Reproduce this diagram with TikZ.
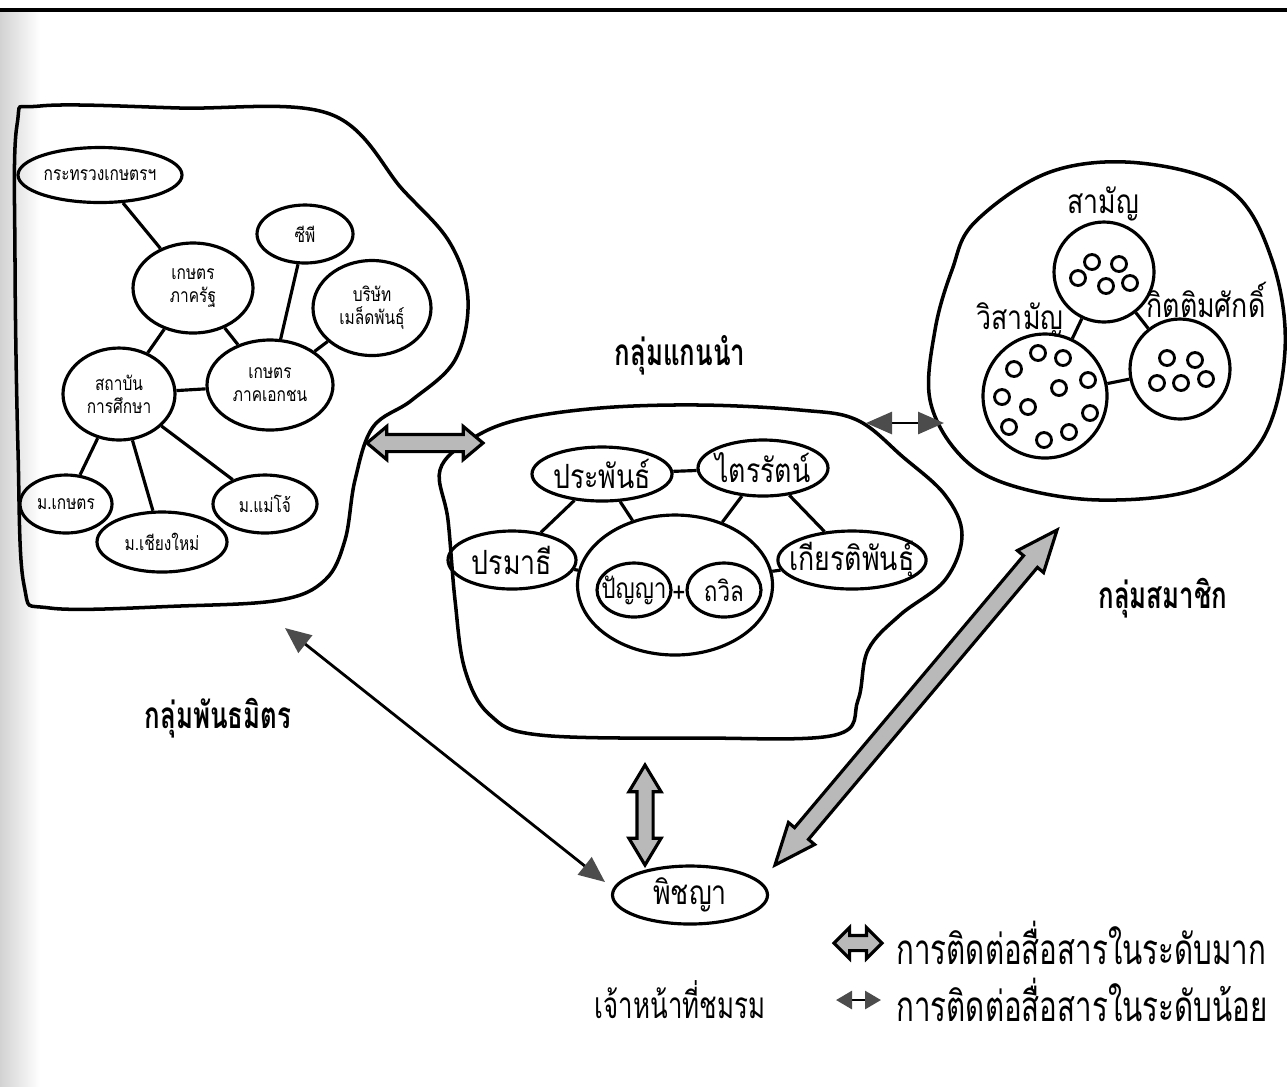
\documentclass[tikz,border=0pt]{standalone}
\usepackage{fontspec}
\newfontfamily\thaifont[Script=Thai,FakeStretch=0.8]{Loma}
\newfontfamily\thaicond[Script=Thai,FakeStretch=0.7]{Loma}
\usetikzlibrary{shapes.geometric,shapes.arrows,arrows.meta}
\begin{document}
\begin{tikzpicture}[x=0.1mm,y=-0.1mm,font=\thaifont,
  ent/.style={ellipse, draw, line width=0.9pt, inner xsep=-1mm, inner ysep=0pt, align=center},
  ring/.style={circle, draw, line width=0.9pt, inner sep=0pt},
  mini/.style={circle, draw, line width=0.8pt, minimum size=1.5mm, inner sep=0pt},
  link/.style={line width=0.9pt},
  blob/.style={line width=1pt},
  bigarr/.style={double arrow, draw, line width=0.9pt, fill=gray!55, inner sep=0.7mm, double arrow head extend=0.8mm},
  thinarr/.style={line width=0.8pt, {Triangle[length=2.6mm,width=2.2mm,color=gray!60!black]}-{Triangle[length=2.6mm,width=2.2mm,color=gray!60!black]}},
  keyarr/.style={line width=0.8pt, {Triangle[length=1.6mm,width=1.8mm,color=gray!60!black]}-{Triangle[length=1.6mm,width=1.8mm,color=gray!60!black]}},
  tiny/.style={font=\thaifont\fontsize{5.5}{6.5}\selectfont},
  mid/.style={font=\thaifont\fontsize{9.5}{10.5}\selectfont},
  sml/.style={font=\thaifont\fontsize{8}{9}\selectfont},
  grp/.style={font=\thaicond\bfseries\fontsize{10.5}{12}\selectfont},
  lgd/.style={font=\thaicond\fontsize{12}{14}\selectfont}]
\useasboundingbox (0,0) rectangle (1287,1086);
\shade[left color=gray!35, right color=white] (0,10) rectangle (40,1086);
\draw[line width=1.2pt] (0,10) -- (1287,10);
\draw[blob] plot[smooth cycle, tension=0.6] coordinates {(17,125) (40,106) (180,108) (330,114) (403,190) (450,243) (468,300) (455,360) (412,400) (373,427) (355,480) (345,540) (325,580) (280,600) (180,606) (50,608) (24,585) (18,450) (15,260)};
\draw[blob] plot[smooth cycle, tension=0.6] coordinates {(440,470) (470,440) (517,420) (600,408) (700,405) (800,410) (857,420) (903,457) (945,495) (962,535) (945,580) (900,615) (868,650) (858,700) (835,735) (700,738) (540,735) (490,715) (465,670) (455,600) (448,520)};
\draw[blob] plot[smooth cycle, tension=0.6] coordinates {(975,222) (1050,172) (1140,163) (1230,190) (1272,260) (1285,350) (1262,440) (1200,488) (1100,500) (1010,485) (960,455) (930,400) (935,330) (952,270)};
\node[ent, tiny, minimum width=16.4mm, minimum height=5.5mm] (moa) at (100,175) {กระทรวงเกษตรฯ};
\node[ent, tiny, minimum width=12mm, minimum height=9mm] (gov) at (193,288) {เกษตร\\ภาครัฐ};
\node[ent, tiny, minimum width=9.6mm, minimum height=5.8mm] (cp) at (305,234) {ซีพี};
\node[ent, tiny, minimum width=11.8mm, minimum height=9.5mm] (seed) at (372,308) {บริษัท\\เมล็ดพันธุ์};
\node[ent, tiny, minimum width=12.6mm, minimum height=9mm] (priv) at (270,385) {เกษตร\\ภาคเอกชน};
\node[ent, tiny, minimum width=11.2mm, minimum height=9.2mm] (edu) at (119,394) {สถาบัน\\การศึกษา};
\node[ent, tiny, minimum width=9.2mm, minimum height=5.8mm] (ku) at (66,504) {ม.เกษตร};
\node[ent, tiny, minimum width=13mm, minimum height=6mm] (cmu) at (162,542) {ม.เชียงใหม่};
\node[ent, tiny, minimum width=10.4mm, minimum height=5.8mm] (mju) at (265,504) {ม.แม่โจ้};
\draw[link] (moa) -- (gov);
\draw[link] (gov) -- (edu);
\draw[link] (gov) -- (priv);
\draw[link] (cp) -- (priv);
\draw[link] (seed) -- (priv);
\draw[link] (edu) -- (priv);
\draw[link] (edu) -- (ku);
\draw[link] (edu) -- (cmu);
\draw[link] (edu) -- (mju);
\node[grp] (allies) at (218,718) {กลุ่มพันธมิตร};
\node[grp] (leaders) at (680,355) {กลุ่มแกนนำ};
\node[ent, mid, minimum width=14mm, minimum height=5.4mm] (pra) at (602,474) {ประพันธ์};
\node[ent, mid, minimum width=13mm, minimum height=5.6mm] (tri) at (763,468) {ไตรรัตน์};
\node[ent, mid, minimum width=12.8mm, minimum height=5.8mm] (pam) at (512,560) {ปรมาธี};
\node[ent, mid, minimum width=13mm, minimum height=5.8mm] (kia) at (852,560) {เกียรติพันธุ์};
\node[ent, minimum width=19.5mm, minimum height=14mm] (core) at (675,585) {};
\node[ent, sml, minimum width=7.4mm, minimum height=5.4mm] (pan) at (634,590) {ปัญญา};
\node[ent, sml, minimum width=7.4mm, minimum height=5.4mm] (tha) at (724,590) {ถวิล};
\node[sml] (plus) at (679,594) {+};
\draw[link] (pra) -- (tri);
\draw[link] (pra) -- (pam);
\draw[link] (pra) -- (core);
\draw[link] (tri) -- (core);
\draw[link] (tri) -- (kia);
\draw[link] (pam) -- (core);
\draw[link] (core) -- (kia);
\node[ring, minimum size=10mm] (sam) at (1104,272) {};
\node[ring, minimum size=10mm] (kit) at (1180,369) {};
\node[ring, minimum size=12.4mm] (vis) at (1045,396) {};
\node[mid] (samlbl) at (1103,204) {สามัญ};
\node[mid] (kitlbl) at (1206,300) {กิตติมศักดิ์};
\node[mid] (vislbl) at (1020,320) {วิสามัญ};
\draw[link] (sam) -- (vis);
\draw[link] (sam) -- (kit);
\draw[link] (vis) -- (kit);
\node[mini] (s1) at (1092,262) {};
\node[mini] (s2) at (1119,264) {};
\node[mini] (s3) at (1078,278) {};
\node[mini] (s4) at (1106,286) {};
\node[mini] (s5) at (1130,283) {};
\node[mini] (k1) at (1167,358) {};
\node[mini] (k2) at (1195,360) {};
\node[mini] (k3) at (1157,383) {};
\node[mini] (k4) at (1181,383) {};
\node[mini] (k5) at (1206,379) {};
\node[mini] (v1) at (1038,353) {};
\node[mini] (v2) at (1063,358) {};
\node[mini] (v3) at (1014,369) {};
\node[mini] (v4) at (1088,380) {};
\node[mini] (v5) at (1059,388) {};
\node[mini] (v6) at (1002,397) {};
\node[mini] (v7) at (1028,407) {};
\node[mini] (v8) at (1090,413) {};
\node[mini] (v9) at (1009,427) {};
\node[mini] (v10) at (1069,432) {};
\node[mini] (v11) at (1044,440) {};
\node[grp] (members) at (1163,598) {กลุ่มสมาชิก};
\node[ent, mid, minimum width=15.5mm, minimum height=5.8mm] (staff) at (690,895) {พิชญา};
\node[font=\thaicond\fontsize{10.5}{12}\selectfont] (stafflbl) at (680,1000) {เจ้าหน้าที่ชมรม};
\coordinate (la) at (367,443);
\coordinate (lb) at (483,443);
\path (la) -- (lb) node[bigarr, midway, sloped, minimum height=11.6mm, double arrow tip angle=80] (a1) {};
\coordinate (va) at (645,765);
\coordinate (vb) at (645,865);
\path (va) -- (vb) node[bigarr, midway, sloped, minimum height=10mm, inner sep=0.65mm, double arrow tip angle=62] (a2) {};
\coordinate (da) at (775,865);
\coordinate (db) at (1057,530);
\path (da) -- (db) node[bigarr, midway, sloped, minimum height=43.8mm, inner sep=0.75mm, double arrow tip angle=45] (a3) {};
\coordinate (ra) at (866,423);
\coordinate (rb) at (944,423);
\draw[thinarr] (ra) -- (rb);
\coordinate (ta) at (285,628);
\coordinate (tb) at (605,882);
\draw[thinarr] (ta) -- (tb);
\node[bigarr, minimum height=4.8mm, inner sep=0.6mm, double arrow head extend=0.8mm] (lg1) at (858,943) {};
\node[lgd, anchor=west] (lt1) at (884,943) {การติดต่อสื่อสารในระดับมาก};
\coordinate (lga) at (836,1000);
\coordinate (lgb) at (881,1000);
\draw[keyarr] (lga) -- (lgb);
\node[lgd, anchor=west] (lt2) at (884,1000) {การติดต่อสื่อสารในระดับน้อย};
\end{tikzpicture}
\end{document}
